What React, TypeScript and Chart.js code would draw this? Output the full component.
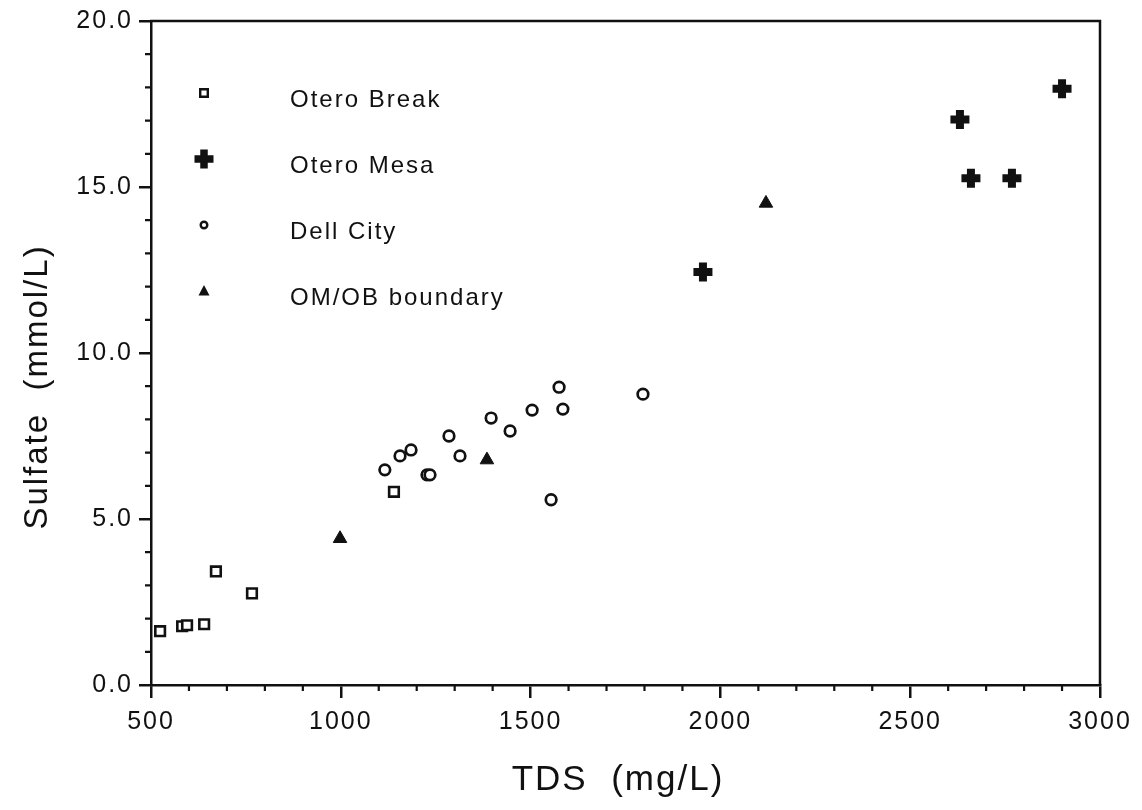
import React, { useEffect, useRef } from "react";
import { Chart, registerables } from "chart.js";

Chart.register(...registerables);

// TDS (mg/L) and sulfate (mmol/L) per sample group
const oteroBreakTds = [524, 582, 595, 640, 671, 766, 1140];
const oteroBreakSulfate = [1.62, 1.77, 1.8, 1.83, 3.42, 2.76, 5.82];

const oteroMesaTds = [1954, 2631, 2660, 2768, 2900];
const oteroMesaSulfate = [12.44, 17.03, 15.26, 15.26, 17.96];

const dellCityTds = [1116, 1156, 1185, 1227, 1235, 1285, 1314, 1396, 1446, 1504, 1575, 1585, 1796, 1554];
const dellCitySulfate = [6.48, 6.9, 7.08, 6.33, 6.33, 7.5, 6.9, 8.04, 7.65, 8.28, 8.97, 8.31, 8.76, 5.58];

const boundaryTds = [998, 1385, 2120];
const boundarySulfate = [4.41, 6.78, 14.51];

const legendLabels = ["Otero Break", "Otero Mesa", "Dell City", "OM/OB boundary"];

const xTitle = "TDS  (mg/L)";
const yTitle = "Sulfate  (mmol/L)";

const xMin = 500;
const xMax = 3000;
const yMin = 0;
const yMax = 20;
const xMinorStep = 100;
const yMinorStep = 1;

const FONT = "'Liberation Sans', Arial, Helvetica, sans-serif";
const INK = "#111";

const toPoints = (xs: number[], ys: number[]) => xs.map((x, i) => ({ x, y: ys[i] }));

function drawMarker(ctx: CanvasRenderingContext2D, kind: number, x: number, y: number) {
  ctx.save();
  ctx.strokeStyle = INK;
  ctx.fillStyle = INK;
  ctx.beginPath();
  if (kind === 0) {
    ctx.lineWidth = 2.4;
    ctx.fillStyle = "#fff";
    ctx.rect(x - 3.8, y - 3.8, 7.6, 7.6);
    ctx.fill();
    ctx.stroke();
  } else if (kind === 1) {
    ctx.lineWidth = 7.5;
    ctx.moveTo(x - 9.5, y);
    ctx.lineTo(x + 9.5, y);
    ctx.moveTo(x, y - 9.5);
    ctx.lineTo(x, y + 9.5);
    ctx.stroke();
  } else if (kind === 2) {
    ctx.lineWidth = 2.4;
    ctx.fillStyle = "#fff";
    ctx.arc(x, y, 3.3, 0, Math.PI * 2);
    ctx.fill();
    ctx.stroke();
  } else {
    ctx.moveTo(x, y - 6);
    ctx.lineTo(x + 5.5, y + 4.5);
    ctx.lineTo(x - 5.5, y + 4.5);
    ctx.closePath();
    ctx.fill();
  }
  ctx.restore();
}

const decorations = {
  id: "decorations",
  beforeUpdate(chart: any) {
    chart.ctx.letterSpacing = "2px";
  },
  beforeDraw(chart: any) {
    const ctx = chart.ctx;
    ctx.letterSpacing = "2px";
    ctx.save();
    ctx.fillStyle = "#fff";
    ctx.fillRect(0, 0, chart.width, chart.height);
    ctx.restore();
  },
  afterDraw(chart: any) {
    const ctx: CanvasRenderingContext2D = chart.ctx;
    const { left, right, top, bottom } = chart.chartArea;
    const xs = chart.scales.x;
    const ys = chart.scales.y;
    ctx.save();
    ctx.strokeStyle = INK;
    ctx.lineWidth = 2.5;
    ctx.lineCap = "butt";

    // frame top and right
    ctx.beginPath();
    ctx.moveTo(left - 1, top);
    ctx.lineTo(right, top);
    ctx.lineTo(right, bottom);
    ctx.stroke();

    // minor ticks
    ctx.lineWidth = 2.2;
    ctx.beginPath();
    for (let v = xMin + xMinorStep; v < xMax; v += xMinorStep) {
      if (v % 500 === 0) continue;
      const px = xs.getPixelForValue(v);
      ctx.moveTo(px, bottom);
      ctx.lineTo(px, bottom + 6);
    }
    for (let v = yMin + yMinorStep; v < yMax; v += yMinorStep) {
      if (v % 5 === 0) continue;
      const py = ys.getPixelForValue(v);
      ctx.moveTo(left, py);
      ctx.lineTo(left - 6, py);
    }
    ctx.stroke();

    // axis titles
    ctx.fillStyle = INK;
    ctx.letterSpacing = "2px";
    ctx.textAlign = "center";
    ctx.textBaseline = "alphabetic";
    ctx.font = `35px ${FONT}`;
    ctx.fillText(xTitle, 618, 790);
    ctx.save();
    ctx.font = `33px ${FONT}`;
    ctx.translate(47, 387);
    ctx.rotate(-Math.PI / 2);
    ctx.fillText(yTitle, 0, 0);
    ctx.restore();

    // legend
    ctx.font = `24px ${FONT}`;
    ctx.textAlign = "left";
    ctx.textBaseline = "middle";
    legendLabels.forEach((label, i) => {
      const my = 93 + i * 66;
      drawMarker(ctx, i, 204, my);
      ctx.fillStyle = INK;
      ctx.fillText(label, 290, my + 7);
    });
    ctx.restore();
  },
};

export default function App() {
  const canvasRef = useRef<HTMLCanvasElement | null>(null);

  useEffect(() => {
    const canvas = canvasRef.current;
    if (!canvas) return;
    const chart = new Chart(canvas, {
      type: "scatter",
      data: {
        datasets: [
          {
            label: legendLabels[0],
            data: toPoints(oteroBreakTds, oteroBreakSulfate),
            pointStyle: "rect",
            pointRadius: 6.8,
            pointBorderWidth: 2.6,
            pointBorderColor: INK,
            pointBackgroundColor: "#fff",
          },
          {
            label: legendLabels[1],
            data: toPoints(oteroMesaTds, oteroMesaSulfate),
            pointStyle: "cross",
            pointRadius: 9.5,
            pointBorderWidth: 8,
            pointBorderColor: INK,
            pointBackgroundColor: INK,
          },
          {
            label: legendLabels[2],
            data: toPoints(dellCityTds, dellCitySulfate),
            pointStyle: "circle",
            pointRadius: 5.3,
            pointBorderWidth: 2.7,
            pointBorderColor: INK,
            pointBackgroundColor: "#fff",
          },
          {
            label: legendLabels[3],
            data: toPoints(boundaryTds, boundarySulfate),
            pointStyle: "triangle",
            pointRadius: 7.8,
            pointBorderWidth: 1,
            pointBorderColor: INK,
            pointBackgroundColor: INK,
          },
        ],
      },
      options: {
        animation: false,
        responsive: true,
        maintainAspectRatio: false,
        layout: { padding: { left: 0, top: 18, right: 42, bottom: 0 } },
        plugins: {
          legend: { display: false },
          tooltip: { enabled: false },
        },
        scales: {
          x: {
            type: "linear",
            min: xMin,
            max: xMax,
            afterFit: (scale: any) => {
              scale.height = 125;
            },
            border: { display: true, color: INK, width: 2.5 },
            grid: {
              display: true,
              drawOnChartArea: false,
              drawTicks: true,
              tickLength: 13,
              color: INK,
              lineWidth: 2.5,
            },
            ticks: {
              stepSize: 500,
              color: INK,
              font: { family: FONT, size: 25 },
              padding: 9,
              maxRotation: 0,
              callback: (v: any) => String(v),
            },
          },
          y: {
            type: "linear",
            min: yMin,
            max: yMax,
            afterFit: (scale: any) => {
              scale.width = 151;
            },
            border: { display: true, color: INK, width: 2.5 },
            grid: {
              display: true,
              drawOnChartArea: false,
              drawTicks: true,
              tickLength: 12,
              color: INK,
              lineWidth: 2.5,
            },
            ticks: {
              stepSize: 5,
              color: INK,
              font: { family: FONT, size: 25 },
              padding: 6,
              callback: (v: any) => Number(v).toFixed(1),
            },
          },
        },
      },
      plugins: [decorations],
    });
    return () => chart.destroy();
  }, []);

  return (
    <div style={{ position: "fixed", left: 0, top: 0, width: 1142, height: 810, background: "#fff" }}>
      <canvas ref={canvasRef} />
    </div>
  );
}
